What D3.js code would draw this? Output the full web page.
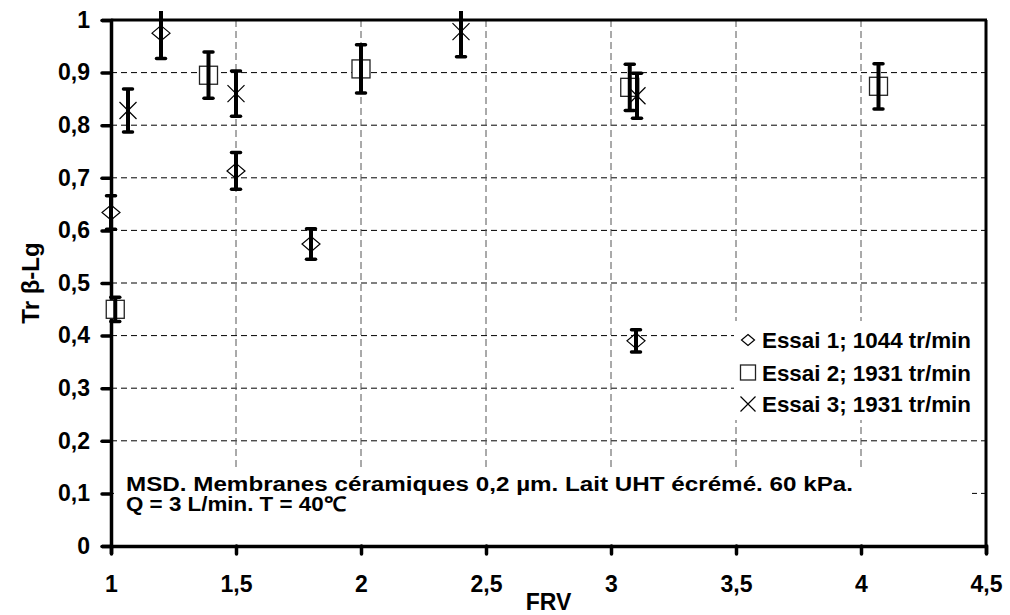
<!DOCTYPE html>
<html>
<head>
<meta charset="utf-8">
<script src="https://cdn.jsdelivr.net/npm/d3@7/dist/d3.min.js"></script>
<style>
  html, body { margin: 0; padding: 0; background: #fff; }
  svg { display: block; font-family: "Liberation Sans", Arial, sans-serif; }
</style>
</head>
<body>
<svg id="chart" width="1010" height="615"></svg>
<script>
// ---- data ----
const xTicks = [1, 1.5, 2, 2.5, 3, 3.5, 4, 4.5];
const yTicks = [0, 0.1, 0.2, 0.3, 0.4, 0.5, 0.6, 0.7, 0.8, 0.9, 1];

const essai1X = [1.0, 1.2, 1.5, 1.8, 3.1];
const essai1Y = [0.634, 0.975, 0.713, 0.574, 0.390];
const essai1E = [0.032, 0.048, 0.035, 0.029, 0.021];

const essai2X = [1.017, 1.39, 2.0, 3.075, 4.07];
const essai2Y = [0.450, 0.895, 0.907, 0.872, 0.874];
const essai2E = [0.023, 0.044, 0.046, 0.044, 0.043];

const essai3X = [1.068, 1.5, 2.4, 3.104];
const essai3Y = [0.828, 0.860, 0.978, 0.856];
const essai3E = [0.041, 0.043, 0.048, 0.043];

const seriesNames = ["Essai 1; 1044 tr/min", "Essai 2; 1931 tr/min", "Essai 3; 1931 tr/min"];
const seriesSymbols = ["diamond", "square", "cross"];

const annotationLines = ["MSD. Membranes céramiques 0,2 µm. Lait UHT écrémé. 60 kPa.",
                         "Q = 3 L/min. T = 40℃"];
const xTitle = "FRV";
const yTitle = "Tr β-Lg";

// ---- layout ----
const svg = d3.select("#chart");
const L = 111, R = 986, T = 20, B = 546;
const x = d3.scaleLinear().domain([1, 4.5]).range([L, R]);
const y = d3.scaleLinear().domain([0, 1]).range([B, T]);
const fmt = d => String(d).replace(".", ",");

// grid
const grid = svg.append("g");
grid.selectAll("line.h").data(yTicks.filter(v => v > 0 && v < 1)).join("line")
  .attr("x1", L).attr("x2", R).attr("y1", d => y(d)).attr("y2", d => y(d))
  .attr("stroke", "#000").attr("stroke-width", 1).attr("stroke-dasharray", "6,4");
grid.selectAll("line.v").data(xTicks.filter(v => v > 1 && v < 4.5)).join("line")
  .attr("y1", T).attr("y2", B).attr("x1", d => x(d)).attr("x2", d => x(d))
  .attr("stroke", "#555").attr("stroke-width", 1).attr("stroke-dasharray", "7,4");

// legend & annotation backgrounds (cover grid)
svg.append("rect").attr("x", 734).attr("y", 321).attr("width", 251).attr("height", 99).attr("fill", "#fff");
svg.append("rect").attr("x", 114).attr("y", 467).attr("width", 858).attr("height", 77).attr("fill", "#fff");

// border top/right
svg.append("line").attr("x1", L).attr("x2", R + 1).attr("y1", T).attr("y2", T)
  .attr("stroke", "#000").attr("stroke-width", 3);
svg.append("line").attr("x1", R).attr("x2", R).attr("y1", T).attr("y2", B)
  .attr("stroke", "#000").attr("stroke-width", 3);

// axes
const yAxis = svg.append("g").attr("transform", `translate(${L},0)`)
  .call(d3.axisLeft(y).tickValues(yTicks).tickFormat(fmt).tickSize(9).tickPadding(12));
const xAxis = svg.append("g").attr("transform", `translate(0,${B})`)
  .call(d3.axisBottom(x).tickValues(xTicks).tickFormat(fmt).tickSize(8).tickPadding(22));
[yAxis, xAxis].forEach(a => {
  a.select(".domain").attr("stroke", "#000").attr("stroke-width", 3.5);
  a.selectAll(".tick line").attr("stroke", "#000").attr("stroke-width", 3.5).attr("stroke-linecap", "round");
  a.selectAll(".tick text").attr("fill", "#000").attr("font-size", 23).attr("font-weight", "bold")
    .attr("font-family", "Liberation Sans, Arial, sans-serif");
});
xAxis.selectAll(".tick text").attr("dy", "0.71em");

// axis titles
svg.append("text").attr("x", (L + R) / 2).attr("y", 610).attr("text-anchor", "middle")
  .attr("font-size", 23).attr("font-weight", "bold").text(xTitle);
svg.append("text").attr("transform", `translate(39,${(T + B) / 2}) rotate(-90)`)
  .attr("text-anchor", "middle").attr("font-size", 24).attr("font-weight", "bold").text(yTitle);

// symbols
function drawSymbol(g, kind, cx, cy, s) {
  if (kind === "diamond") {
    g.append("path").attr("d", `M${cx},${cy - s * 0.42}L${cx + s / 2},${cy}L${cx},${cy + s * 0.42}L${cx - s / 2},${cy}Z`)
      .attr("fill", "#fff").attr("stroke", "#000").attr("stroke-width", 1.2);
  } else if (kind === "square") {
    g.append("rect").attr("x", cx - s / 2).attr("y", cy - s / 2).attr("width", s).attr("height", s)
      .attr("fill", "#fff").attr("stroke", "#222").attr("stroke-width", 1.3);
  } else {
    g.append("path").attr("d", `M${cx - s / 2},${cy - s / 2}L${cx + s / 2},${cy + s / 2}M${cx - s / 2},${cy + s / 2}L${cx + s / 2},${cy - s / 2}`)
      .attr("fill", "none").attr("stroke", "#000").attr("stroke-width", 1.2);
  }
}

svg.append("clipPath").attr("id", "clip").append("rect")
  .attr("x", 0).attr("y", 11).attr("width", 1010).attr("height", 600);

const allSeries = [
  {xs: essai1X, ys: essai1Y, es: essai1E, sym: "diamond", size: 18},
  {xs: essai2X, ys: essai2Y, es: essai2E, sym: "square", size: 18},
  {xs: essai3X, ys: essai3Y, es: essai3E, sym: "cross", size: 17}
];
const marks = svg.append("g");
const bars = svg.append("g").attr("clip-path", "url(#clip)");
allSeries.forEach(s => {
  s.xs.forEach((xv, i) => {
    drawSymbol(marks, s.sym, x(xv), y(s.ys[i]), s.size);
    const cx = x(xv), y0 = y(s.ys[i] - s.es[i]), y1 = y(s.ys[i] + s.es[i]);
    bars.append("line").attr("x1", cx).attr("x2", cx).attr("y1", y0).attr("y2", y1)
      .attr("stroke", "#000").attr("stroke-width", 4);
    [y0, y1].forEach(yy => bars.append("line").attr("x1", cx - 4.5).attr("x2", cx + 4.5)
      .attr("y1", yy).attr("y2", yy).attr("stroke", "#000").attr("stroke-width", 3.5)
      .attr("stroke-linecap", "round"));
  });
});

// legend
const legRows = [340, 372.5, 404];
const legSizes = [13, 15, 15];
seriesNames.forEach((name, i) => {
  drawSymbol(svg, seriesSymbols[i], 748, legRows[i], legSizes[i]);
  svg.append("text").attr("x", 762).attr("y", legRows[i] + 8).attr("font-size", 22)
    .attr("font-weight", "bold").attr("textLength", 209).attr("lengthAdjust", "spacingAndGlyphs").text(name);
});

// annotation
const annLengths = [727, 220];
annotationLines.forEach((t, i) => {
  svg.append("text").attr("x", 126).attr("y", 491 + i * 20).attr("font-size", 20)
    .attr("font-weight", "bold").attr("textLength", annLengths[i]).attr("lengthAdjust", "spacingAndGlyphs").text(t);
});
</script>
</body>
</html>
